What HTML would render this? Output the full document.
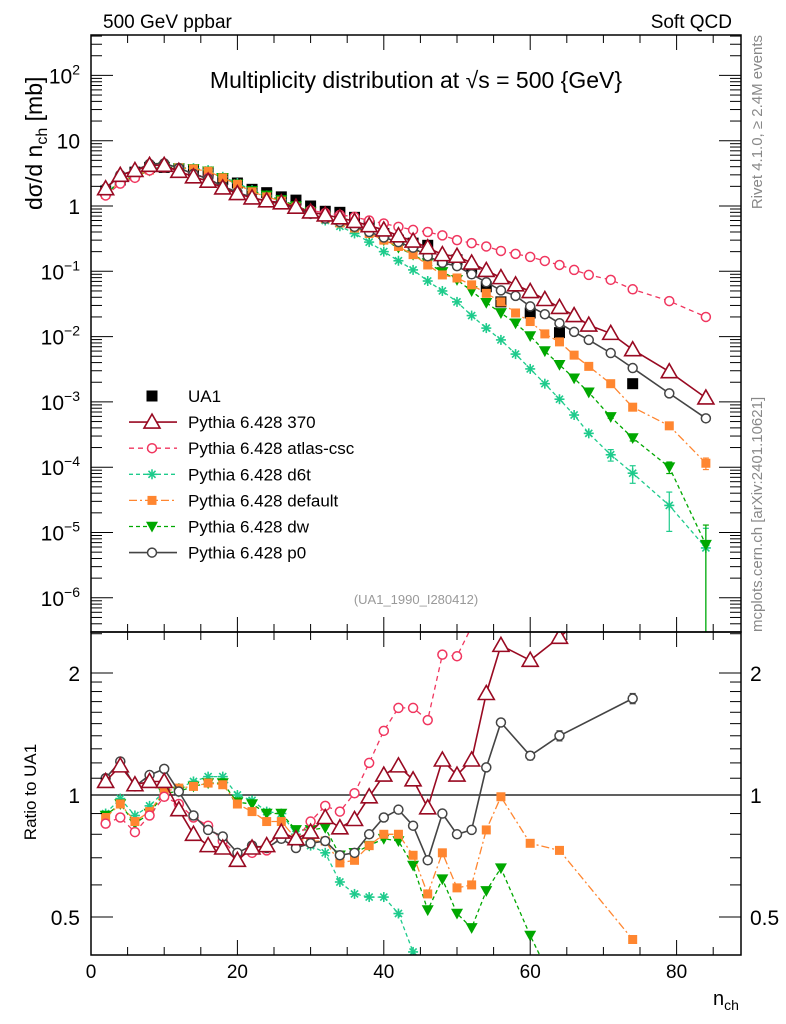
<!DOCTYPE html>
<html><head><meta charset="utf-8"><style>
html,body{margin:0;background:#fff;overflow:hidden;width:786px;height:1024px}
svg{display:block;font-family:"Liberation Sans","DejaVu Sans",sans-serif}
</style></head><body>
<svg id="c" width="786" height="1024" viewBox="0 0 786 1024" xmlns="http://www.w3.org/2000/svg">
<defs>
<clipPath id="cm"><rect x="91" y="35" width="650" height="597"/></clipPath>
<clipPath id="cr"><rect x="91" y="632" width="650" height="323"/></clipPath>
</defs>
<rect x="0" y="0" width="786" height="1024" fill="#fff"/>
<text x="103" y="28" font-size="19">500 GeV ppbar</text>
<text x="732" y="28" font-size="19" text-anchor="end">Soft QCD</text>
<text x="416" y="88" font-size="23" text-anchor="middle">Multiplicity distribution at √s = 500 {GeV}</text>
<text x="416" y="604" font-size="13" fill="#999" text-anchor="middle">(UA1_1990_I280412)</text>
<text transform="translate(762,35) rotate(-90)" font-size="15" fill="#888" text-anchor="end">Rivet 4.1.0, ≥ 2.4M events</text>
<text transform="translate(762,632) rotate(-90)" font-size="15" fill="#888" text-anchor="start">mcplots.cern.ch [arXiv:2401.10621]</text>
<text transform="translate(42,210) rotate(-90)" font-size="23">dσ/d n<tspan font-size="16" dy="5">ch</tspan><tspan dy="-5"> [mb]</tspan></text>
<text transform="translate(36,792) rotate(-90)" font-size="17" text-anchor="middle">Ratio to UA1</text>
<text x="713" y="1005" font-size="20">n<tspan font-size="14" dy="5">ch</tspan></text>
<g id="gm" clip-path="url(#cm)"></g>
<g id="gr" clip-path="url(#cr)"></g>
<g id="axes"></g>
<g id="legend"></g>
</svg>
<script>
// ---- data ----
const ratioBins = [2,4,6,8,10,12,14,16,18,20,22,24,26,28,30,32,34,36,38,40,42,44,46,48,50,52,54,56,60,64,74];
const mcBins = [2,4,6,8,10,12,14,16,18,20,22,24,26,28,30,32,34,36,38,40,42,44,46,48,50,52,54,56,58,60,62,64,66,68,71,74,79,84];
const ua1Values = [1.7,2.5,3.3,3.9,3.9,3.7,3.5,3.2,2.55,2.25,1.8,1.6,1.38,1.23,1.0,0.83,0.8,0.67,0.5,0.38,0.30,0.27,0.25,0.15,0.15,0.11,0.058,0.034,0.023,0.0115,0.0019];
const main370 = [1.84,2.95,3.5,4.2,4.2,3.4,2.8,2.4,1.89,1.55,1.33,1.2,1.12,0.96,0.81,0.73,0.66,0.58,0.50,0.43,0.35,0.29,0.23,0.18,0.17,0.134,0.103,0.080,0.062,0.049,0.037,0.028,0.021,0.015,0.0112,0.0063,0.0029,0.00115];
const mainAtlas = [1.45,2.2,2.7,3.5,3.9,3.5,3.1,2.7,1.96,1.6,1.3,1.17,1.09,0.96,0.86,0.78,0.73,0.68,0.60,0.54,0.48,0.43,0.40,0.355,0.30,0.27,0.24,0.205,0.185,0.166,0.144,0.125,0.105,0.088,0.074,0.053,0.035,0.020];
const mainD6t = [1.53,2.45,2.9,3.7,4.0,3.85,3.8,3.55,2.8,2.25,1.75,1.45,1.24,0.98,0.75,0.60,0.49,0.38,0.28,0.20,0.145,0.105,0.071,0.05,0.034,0.021,0.0135,0.0089,0.0054,0.0032,0.0019,0.0011,0.00063,0.00033,0.000155,0.000081,0.000026,0.0000058];
const mainDefault = [1.5,2.4,2.85,3.55,4.0,3.85,3.7,3.4,2.7,2.15,1.65,1.38,1.19,0.96,0.77,0.64,0.55,0.46,0.38,0.30,0.24,0.18,0.125,0.088,0.079,0.062,0.046,0.034,0.023,0.017,0.011,0.0083,0.0052,0.0035,0.0019,0.00083,0.00043,0.000115];
const mainDw = [1.5,2.4,2.8,3.5,3.95,3.8,3.7,3.4,2.7,2.15,1.7,1.45,1.24,1.0,0.82,0.69,0.57,0.47,0.38,0.30,0.23,0.18,0.134,0.098,0.074,0.05,0.033,0.023,0.016,0.0102,0.006,0.0037,0.0023,0.0014,0.00059,0.00028,0.0001,0.0000065];
const mainP0 = [1.87,3.0,3.5,4.4,4.5,3.8,3.1,2.6,2.0,1.62,1.35,1.18,1.08,0.91,0.76,0.64,0.57,0.48,0.40,0.33,0.28,0.23,0.17,0.135,0.12,0.09,0.068,0.051,0.042,0.029,0.022,0.016,0.0118,0.0089,0.0056,0.0033,0.00135,0.00056];
const ratio370 = [1.08,1.18,1.06,1.08,1.08,0.92,0.80,0.75,0.74,0.69,0.74,0.75,0.81,0.78,0.81,0.88,0.83,0.87,0.99,1.12,1.18,1.09,0.93,1.22,1.12,1.22,1.78,2.34,2.15,2.45,3.5];
const ratioAtlas = [0.85,0.88,0.81,0.89,0.99,0.95,0.88,0.84,0.77,0.71,0.72,0.73,0.79,0.78,0.86,0.94,0.91,1.01,1.20,1.44,1.64,1.64,1.53,2.22,2.20,2.6,4.1,6.0,7.2,10.9,28];
const ratioD6t = [0.90,0.98,0.89,0.94,1.02,1.04,1.08,1.11,1.11,1.00,0.97,0.91,0.90,0.80,0.75,0.72,0.61,0.57,0.56,0.56,0.51,0.41,0.28,0.33,0.23,0.19,0.23,0.26,0.14,0.1,0.043];
const ratioDefault = [0.88,0.95,0.86,0.91,1.02,1.04,1.05,1.07,1.06,0.95,0.91,0.86,0.86,0.78,0.77,0.77,0.68,0.69,0.75,0.80,0.80,0.71,0.57,0.72,0.59,0.60,0.82,0.99,0.76,0.73,0.44];
const ratioDw = [0.89,0.95,0.85,0.90,1.01,1.02,1.05,1.07,1.07,0.96,0.95,0.90,0.90,0.82,0.82,0.83,0.71,0.72,0.75,0.78,0.77,0.67,0.52,0.62,0.51,0.47,0.58,0.66,0.45,0.32,0.15];
const ratioP0 = [1.10,1.21,1.05,1.12,1.16,1.02,0.89,0.82,0.79,0.72,0.75,0.74,0.78,0.74,0.76,0.77,0.71,0.72,0.80,0.88,0.92,0.84,0.69,0.90,0.80,0.82,1.17,1.51,1.25,1.40,1.73];
const tailErrD6t = [0.2,0.3,0.6,1.0];
const tailErrDw = [0.05,0.1,0.2,1.0];
const tailErrDefault = [0,0.05,0.05,0.2];
const ratioErrP0Tail = [0.03,0.04,0.05];
const xTickLabels = ["0","20","40","60","80"];
const yMainExponents = [2,1,0,-1,-2,-3,-4,-5,-6];
const yRatioLabels = ["0.5","1","2"];

// ---- scales ----
const NS="http://www.w3.org/2000/svg";
function xs(n){return 91+7.32*n;}
function ym(v){return 206-65.3*Math.log10(v);}
function yr(r){return 795-122*Math.log2(r);}
function mk(tag,attrs,parent){const e=document.createElementNS(NS,tag);for(const k in attrs)e.setAttribute(k,attrs[k]);parent.appendChild(e);return e;}

const gm=document.getElementById('gm'), gr=document.getElementById('gr'), ax=document.getElementById('axes'), lg=document.getElementById('legend');

function marker(type,color,x,y,parent,big){
  let e;
  if(type==='tri'){const s=big?9:8;e=mk('polygon',{points:`${x},${y-s} ${x-s},${y+s*0.75} ${x+s},${y+s*0.75}`,fill:'#fff',stroke:color,'stroke-width':1.6},parent);}
  else if(type==='circ'){e=mk('circle',{cx:x,cy:y,r:big?5.5:4.5,fill:'#fff',stroke:color,'stroke-width':1.5},parent);}
  else if(type==='sq'){const s=big?5.5:4.5;e=mk('rect',{x:x-s,y:y-s,width:2*s,height:2*s,fill:color},parent);}
  else if(type==='dtri'){const s=6;e=mk('polygon',{points:`${x-s},${y-s*0.8} ${x+s},${y-s*0.8} ${x},${y+s}`,fill:color},parent);}
  else if(type==='star'){e=mk('g',{},parent);const s=5;
    for(let a=0;a<4;a++){const t=a*Math.PI/4;mk('line',{x1:x-s*Math.cos(t),y1:y-s*Math.sin(t),x2:x+s*Math.cos(t),y2:y+s*Math.sin(t),stroke:color,'stroke-width':1.6},e);}}
  return e;
}

const series=[
 {name:'370',color:'#990a22',type:'tri',dash:'',main:main370,ratio:ratio370,w:1.6},
 {name:'atlas-csc',color:'#f0365f',type:'circ',dash:'5,4',main:mainAtlas,ratio:ratioAtlas,w:1.3},
 {name:'d6t',color:'#1ecb8c',type:'star',dash:'4,3',main:mainD6t,ratio:ratioD6t,w:1.3,tail:tailErrD6t},
 {name:'default',color:'#ff8630',type:'sq',dash:'8,3,2,3',main:mainDefault,ratio:ratioDefault,w:1.3,tail:tailErrDefault},
 {name:'dw',color:'#00a800',type:'dtri',dash:'4,3',main:mainDw,ratio:ratioDw,w:1.3,tail:tailErrDw},
 {name:'p0',color:'#444444',type:'circ',dash:'',main:mainP0,ratio:ratioP0,w:1.6,rtail:ratioErrP0Tail}
];

// UA1 data drawn first (beneath MC)
const gd=mk('g',{},gm);


ratioBins.forEach((n,j)=>{const m=marker('sq','#000',xs(n),ym(ua1Values[j]),gd,true);
  
  });

// ratio reference line
const ref=mk('line',{x1:91,x2:741,y1:yr(1),y2:yr(1),stroke:'#000','stroke-width':1.3},gr);



const order=[2,4,3,1,5,0];
order.forEach(i=>{
  const s=series[i];
  const g=mk('g',{},gm);
  
  
  const pts=mcBins.map((n,j)=>xs(n).toFixed(1)+','+ym(s.main[j]).toFixed(1)).join(' ');
  mk('polyline',{points:pts,fill:'none',stroke:s.color,'stroke-width':s.w,'stroke-dasharray':s.dash},g);
  if(s.tail){const off=mcBins.length-s.tail.length;
    s.tail.forEach((e,k)=>{if(!e)return;const j=off+k,x=xs(mcBins[j]),v=s.main[j];
      const y1=ym(v*(1+e)), y2=e>=1?640:ym(v*(1-e));
      mk('line',{x1:x,x2:x,y1:y1,y2:y2,stroke:s.color,'stroke-width':1.2},g);
      mk('line',{x1:x-3,x2:x+3,y1:y1,y2:y1,stroke:s.color,'stroke-width':1.2},g);
      if(e<1)mk('line',{x1:x-3,x2:x+3,y1:y2,y2:y2,stroke:s.color,'stroke-width':1.2},g);});}
  mcBins.forEach((n,j)=>{const m=marker(s.type,s.color,xs(n),ym(s.main[j]),g,false);
    
    });
  const h=mk('g',{},gr);
  
  
  const rp=ratioBins.map((n,j)=>xs(n).toFixed(1)+','+yr(s.ratio[j]).toFixed(1)).join(' ');
  mk('polyline',{points:rp,fill:'none',stroke:s.color,'stroke-width':s.w,'stroke-dasharray':s.dash},h);
  if(s.rtail){const off=ratioBins.length-s.rtail.length;
    s.rtail.forEach((e,k)=>{const j=off+k,x=xs(ratioBins[j]),r=s.ratio[j];
      mk('line',{x1:x,x2:x,y1:yr(r+e),y2:yr(r-e),stroke:s.color,'stroke-width':1.2},h);
      mk('line',{x1:x-3,x2:x+3,y1:yr(r+e),y2:yr(r+e),stroke:s.color,'stroke-width':1.2},h);
      mk('line',{x1:x-3,x2:x+3,y1:yr(r-e),y2:yr(r-e),stroke:s.color,'stroke-width':1.2},h);});}
  ratioBins.forEach((n,j)=>{const m=marker(s.type,s.color,xs(n),yr(s.ratio[j]),h,false);
    
    });
});

// ---- axes ----
function L(x1,y1,x2,y2,w){mk('line',{x1,y1,x2,y2,stroke:'#000','stroke-width':w||1},ax);}
mk('rect',{x:91,y:35,width:650,height:597,fill:'none',stroke:'#000','stroke-width':1.5},ax);
mk('rect',{x:91,y:632,width:650,height:323,fill:'none',stroke:'#000','stroke-width':1.5},ax);
for(let n=0;n<=88;n+=5){const x=xs(n),maj=n%20===0,l=maj?15:8;
  L(x,35,x,35+l);L(x,632,x,632-l);L(x,632,x,632+l);L(x,955,x,955-l);}
xTickLabels.forEach(t=>{const e=mk('text',{x:xs(+t),y:978,'font-size':19,'text-anchor':'middle'},ax);e.textContent=t;
  
  });
for(let d=-7;d<=3;d++){for(let k=1;k<10;k++){const y=ym(k*Math.pow(10,d));if(y<35||y>632)continue;const l=k===1?22:11;
  L(91,y,91+l,y);L(741,y,741-l,y);}}
yMainExponents.forEach(p=>{const y=ym(Math.pow(10,p));const e=mk('text',{x:80,y:y+8,'font-size':21,'text-anchor':'end'},ax);
  if(p===0)e.textContent='1';else if(p===1)e.textContent='10';
  else{e.textContent='10';const t=mk('tspan',{dy:-9,'font-size':14},e);t.textContent=String(p).replace('-','−');}
  
  });
[0.4,0.5,0.6,0.7,0.8,0.9,1,1.1,1.2,1.3,1.4,1.5,1.6,1.7,1.8,1.9,2,2.5].forEach(r=>{const y=yr(r);if(y<632||y>955)return;const maj=(r===0.5||r===1||r===2),l=maj?22:11;
  L(91,y,91+l,y);L(741,y,741-l,y);});
yRatioLabels.forEach(t=>{const y=yr(+t);
  const a=mk('text',{x:80,y:y+8,'font-size':21,'text-anchor':'end'},ax);a.textContent=t;
  
  
  const b=mk('text',{x:750,y:y+8,'font-size':21},ax);b.textContent=t;
  
  });

// ---- legend ----
const legRows=[{label:'UA1',type:'sq',color:'#000',dash:null}].concat(series.map(s=>({label:'Pythia 6.428 '+s.name,type:s.type,color:s.color,dash:s.dash,w:s.w})));
legRows.forEach((r,i)=>{const y=396+26.1*i;const g=mk('g',{},lg);
  
  
  if(r.dash!==null)mk('line',{x1:129,x2:177,y1:y,y2:y,stroke:r.color,'stroke-width':r.w,'stroke-dasharray':r.dash},g);
  marker(r.type,r.color,152,y,g,r.type==='sq'&&r.dash===null);
  const t=mk('text',{x:188,y:y+6,'font-size':17},g);t.textContent=r.label;});
</script>
</body></html>
